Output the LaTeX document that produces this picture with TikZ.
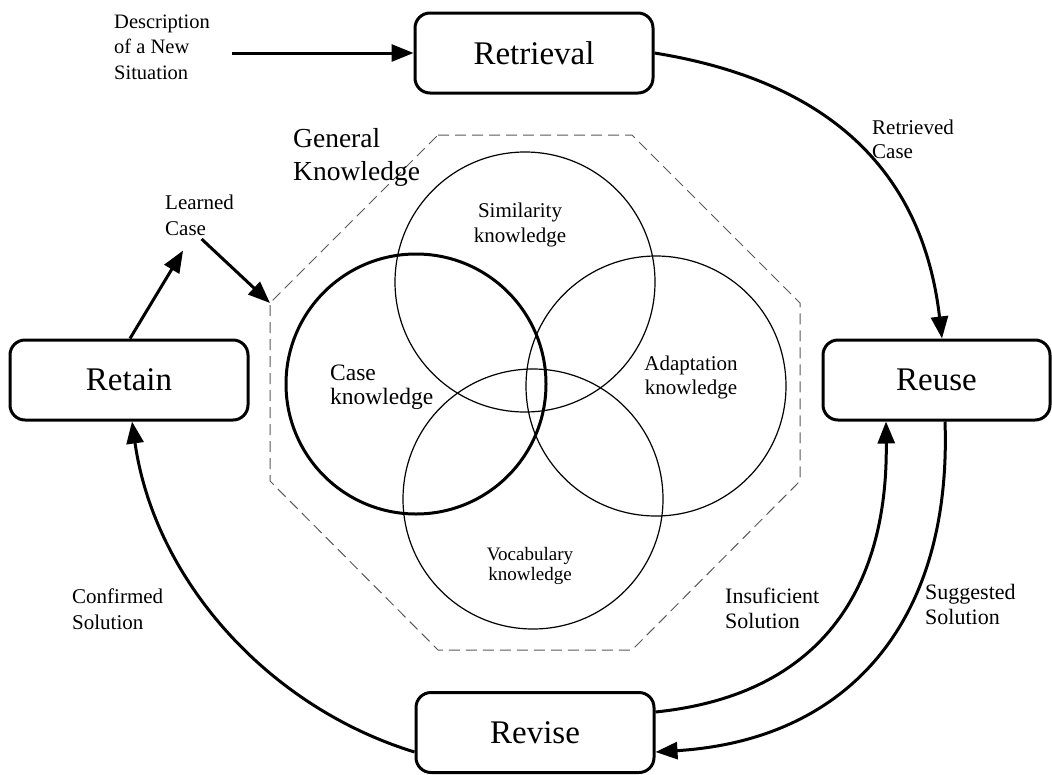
\documentclass[tikz,border=0pt]{standalone}
\usepackage{fontspec}
\setmainfont{Liberation Serif}
\usetikzlibrary{arrows.meta}
\newcommand{\fs}[2]{\fontsize{#1pt}{#2pt}\selectfont}
\newcommand{\mlines}[2]{\begin{tabular}[t]{@{}#1@{}}#2\end{tabular}}
\begin{document}
\begin{tikzpicture}[x=1pt,y=-1pt,
  box/.style={draw, line width=3pt, rounded corners=15pt, minimum width=238pt, minimum height=80pt, inner sep=0pt, font=\fs{33}{40}},
  lbl/.style={inner sep=0pt, font=\fs{21}{25}},
  conn/.style={line width=3pt, -{Triangle[length=22pt,width=17pt]}},
  kcirc/.style={circle, draw, line width=1.2pt, minimum size=260pt, inner sep=0pt},
  octo/.style={draw=black!65, line width=1pt, dash pattern=on 11pt off 6pt}
]
\useasboundingbox (0,0) rectangle (1052,774);

% process boxes
\node[box] (retrieval) at (534,53) {Retrieval};
\node[box] (retain) at (129,380) {Retain};
\node[box, minimum width=227pt] (reuse) at (936.5,380) {Reuse};
\node[box] (revise) at (535,732.5) {Revise};

% general knowledge octagon
\coordinate (oA) at (438,135);
\coordinate (oB) at (632,135);
\coordinate (oC) at (800,303);
\coordinate (oD) at (800,481);
\coordinate (oE) at (632,650);
\coordinate (oF) at (438,650);
\coordinate (oG) at (270,481);
\coordinate (oH) at (270,303);
\draw[octo] (oA) -- (oB) -- (oC) -- (oD) -- (oE) -- (oF) -- (oG) -- (oH) -- cycle;

% knowledge circles
\node[kcirc] (sim) at (525,282) {};
\node[kcirc, line width=3pt] (case) at (416,384) {};
\node[kcirc] (adapt) at (656,386) {};
\node[kcirc] (vocab) at (533,499) {};

\node[inner sep=0pt, anchor=base, font=\fs{21}{25}] (simlbl) at (520,217) {\mlines{c}{Similarity\\knowledge}};
\node[inner sep=0pt, anchor=base west, font=\fs{23.5}{24}] (caselbl) at (330,380) {\mlines{l}{Case\\knowledge}};
\node[inner sep=0pt, anchor=base, font=\fs{21}{24}] (adaptlbl) at (691,370) {\mlines{c}{Adaptation\\knowledge}};
\node[inner sep=0pt, anchor=base, font=\fs{19}{20.5}] (vocablbl) at (530,560) {\mlines{c}{Vocabulary\\knowledge}};
\node[inner sep=0pt, anchor=base west, font=\fs{27.5}{33}] (gk) at (293,147) {\mlines{l}{General\\Knowledge}};

% flow labels
\node[lbl, anchor=base west, font=\fs{20.5}{25.5}] (desc) at (114,28) {\mlines{l}{Description\\of a New\\Situation}};
\node[lbl, anchor=base west, font=\fs{21}{24}] (retrlbl) at (872,134) {\mlines{l}{Retrieved\\Case}};
\node[lbl, anchor=base west, font=\fs{21}{26}] (learned) at (165,209) {\mlines{l}{Learned\\Case}};
\node[lbl, anchor=base west, font=\fs{21}{26}] (conflbl) at (72,603) {\mlines{l}{Confirmed\\Solution}};
\node[lbl, anchor=base west, font=\fs{22}{25}] (insuflbl) at (725,603) {\mlines{l}{Insuficient\\Solution}};
\node[lbl, anchor=base west, font=\fs{22}{25}] (sugglbl) at (925,599) {\mlines{l}{Suggested\\Solution}};

% connectors
\draw[conn] ([xshift=22pt]desc.east |- retrieval.west) -- (retrieval.west);
\draw[conn] (retrieval.east) .. controls (822,80) and (922,165) .. ([xshift=5.5pt]reuse.north);
\draw[conn] ([xshift=8.5pt]reuse.south) .. controls (952,620) and (850,740) .. ([yshift=-19.5pt]revise.east);
\draw[conn] ([yshift=20.5pt]revise.east) .. controls (820,695) and (888,590) .. ([xshift=-50.5pt]reuse.south);
\draw[conn] ([yshift=-19.5pt]revise.west) .. controls (265,706) and (154,577) .. ([xshift=3pt]retain.south);
\draw[conn] ([xshift=1pt]retain.north) -- ([xshift=-16.5pt,yshift=-7.5pt]learned.south);
\draw[conn] ([xshift=2pt,yshift=4pt]learned.south) -- (oH);
\end{tikzpicture}
\end{document}
